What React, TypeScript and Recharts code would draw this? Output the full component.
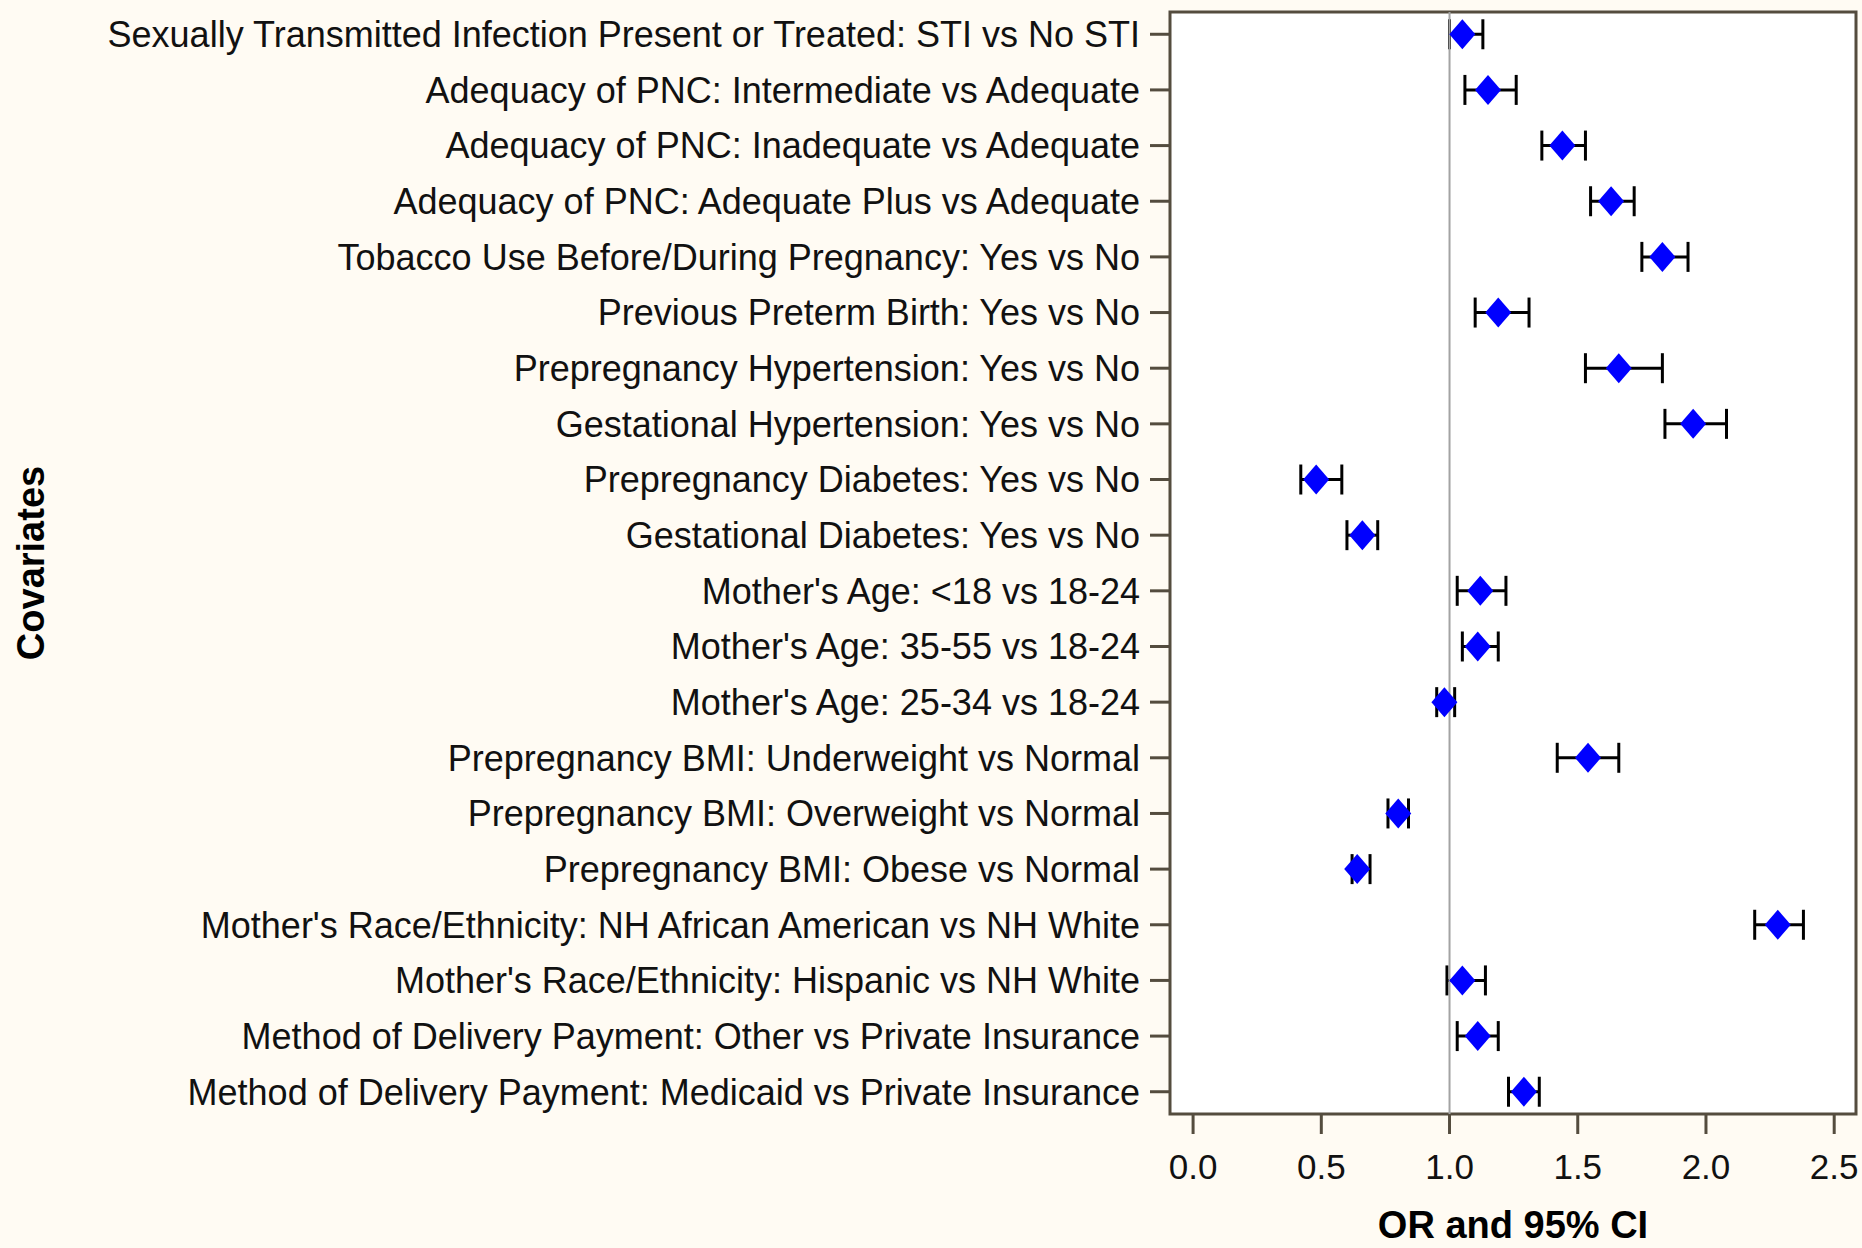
import {
  ScatterChart,
  Scatter,
  XAxis,
  YAxis,
  ErrorBar,
  ReferenceLine,
  ReferenceArea,
} from "recharts";

const covariates = [
  "Sexually Transmitted Infection Present or Treated: STI vs No STI",
  "Adequacy of PNC: Intermediate vs Adequate",
  "Adequacy of PNC: Inadequate vs Adequate",
  "Adequacy of PNC: Adequate Plus vs Adequate",
  "Tobacco Use Before/During Pregnancy: Yes vs No",
  "Previous Preterm Birth: Yes vs No",
  "Prepregnancy Hypertension: Yes vs No",
  "Gestational Hypertension: Yes vs No",
  "Prepregnancy Diabetes: Yes vs No",
  "Gestational Diabetes: Yes vs No",
  "Mother's Age: <18 vs 18-24",
  "Mother's Age: 35-55 vs 18-24",
  "Mother's Age: 25-34 vs 18-24",
  "Prepregnancy BMI: Underweight vs Normal",
  "Prepregnancy BMI: Overweight vs Normal",
  "Prepregnancy BMI: Obese vs Normal",
  "Mother's Race/Ethnicity: NH African American vs NH White",
  "Mother's Race/Ethnicity: Hispanic vs NH White",
  "Method of Delivery Payment: Other vs Private Insurance",
  "Method of Delivery Payment: Medicaid vs Private Insurance",
];

const oddsRatio = [
  1.05, 1.15, 1.44, 1.63, 1.83, 1.19, 1.66, 1.95, 0.48, 0.66,
  1.12, 1.11, 0.98, 1.54, 0.8, 0.64, 2.28, 1.05, 1.11, 1.29,
];
const lowerCI = [
  1.0, 1.06, 1.36, 1.55, 1.75, 1.1, 1.53, 1.84, 0.42, 0.6,
  1.03, 1.05, 0.95, 1.42, 0.76, 0.62, 2.19, 0.99, 1.03, 1.23,
];
const upperCI = [
  1.13, 1.26, 1.53, 1.72, 1.93, 1.31, 1.83, 2.08, 0.58, 0.72,
  1.22, 1.19, 1.02, 1.66, 0.84, 0.69, 2.38, 1.14, 1.19, 1.35,
];

const xTicks = [0, 0.5, 1, 1.5, 2, 2.5];
const xDomain = [-0.09, 2.585];
const yDomain = [-0.4, 19.4];

const data = covariates.map((name, i) => ({
  row: i,
  name,
  or: oddsRatio[i],
  ci: [oddsRatio[i] - lowerCI[i], upperCI[i] - oddsRatio[i]],
}));

const FONT = "'Liberation Sans', Arial, sans-serif";
const FRAME = "#544c3e";

function Diamond(props: any) {
  const { cx, cy } = props;
  if (cx == null || cy == null) return <g />;
  return (
    <polygon
      points={`${cx},${cy - 15} ${cx + 13},${cy} ${cx},${cy + 15} ${cx - 13},${cy}`}
      fill="#0000ff"
    />
  );
}

export default function App() {
  return (
    <div style={{ width: 1862, height: 1248, background: "#fffbf3", fontFamily: FONT }}>
      <style>{"body{margin:0}"}</style>
      <ScatterChart
        width={1862}
        height={1248}
        margin={{ top: 12, right: 6, bottom: 0, left: 0 }}
      >
        <ReferenceArea
          x1={xDomain[0]}
          x2={xDomain[1]}
          y1={yDomain[0]}
          y2={yDomain[1]}
          fill="#ffffff"
          fillOpacity={1}
          stroke={FRAME}
          strokeWidth={3}
        />
        <XAxis
          type="number"
          dataKey="or"
          domain={xDomain}
          allowDataOverflow
          ticks={xTicks}
          tickFormatter={(v: number) => v.toFixed(1)}
          height={134}
          axisLine={false}
          tickLine={{ stroke: FRAME, strokeWidth: 3 }}
          tickSize={20}
          tickMargin={20}
          tick={{ fontSize: 35, fill: "#111", fontFamily: FONT }}
          label={{
            value: "OR and 95% CI",
            position: "insideBottom",
            offset: 10,
            style: { fontSize: 38, fontWeight: "bold", fill: "#000", fontFamily: FONT },
          }}
        />
        <YAxis
          type="number"
          dataKey="row"
          domain={yDomain}
          allowDataOverflow
          reversed
          ticks={data.map((d) => d.row)}
          interval={0}
          tickFormatter={(v: number) => covariates[v] ?? ""}
          width={1170}
          axisLine={false}
          tickLine={{ stroke: FRAME, strokeWidth: 3 }}
          tickSize={20}
          tickMargin={10}
          tick={{ fontSize: 36, fill: "#111", fontFamily: FONT }}
          label={{
            value: "Covariates",
            angle: -90,
            position: "insideLeft",
            offset: 31,
            style: { fontSize: 38, fontWeight: "bold", fill: "#000", fontFamily: FONT, textAnchor: "middle" },
          }}
        />
        <Scatter data={data} dataKey="or" shape={<Diamond />} isAnimationActive={false} />
        <Scatter data={data} dataKey="or" shape={() => <g />} isAnimationActive={false}>
          <ErrorBar dataKey="ci" direction="x" width={15} stroke="#000" strokeWidth={3} />
        </Scatter>
        <ReferenceLine x={1} stroke="#a3a3a3" strokeWidth={2} />
      </ScatterChart>
    </div>
  );
}
